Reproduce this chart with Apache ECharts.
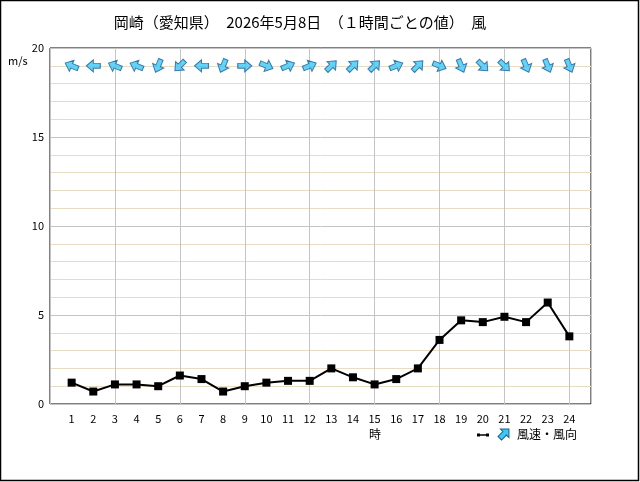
<!DOCTYPE html>
<html>
<head>
<meta charset="utf-8">
<script src="https://cdn.jsdelivr.net/npm/echarts@6/dist/echarts.min.js"></script>
<style>
  html, body { margin: 0; padding: 0; background: #fff; }
  #chart { width: 640px; height: 482px; }
</style>
</head>
<body>
<div id="chart"></div>
<script>
// 時刻 (1..24時)
var hours = [1,2,3,4,5,6,7,8,9,10,11,12,13,14,15,16,17,18,19,20,21,22,23,24];
// 風速 m/s
var speed = [1.2,0.7,1.1,1.1,1.0,1.6,1.4,0.7,1.0,1.2,1.3,1.3,2.0,1.5,1.1,1.4,2.0,3.6,4.7,4.6,4.9,4.6,5.7,3.8];
// 風向（吹いてくる方向）
var windFrom = ['東南東','東','東南東','東南東','北北東','北東','東','北北東','西','西北西','西南西','西南西',
                '南西','南西','南西','西南西','南西','西北西','北北西','北西','北西','北北西','北北西','北北西'];
var compass = ['北','北北東','北東','東北東','東','東南東','南東','南南東','南','南南西','南西','西南西','西','西北西','北西','北北西'];
var yTicks = [0,5,10,15,20];
var arrowRow = 19;

var arrowPath = 'path://M5,0 L10,5 L7,5 L7,10 L3,10 L3,5 L0,5 Z';

var lineData = [];
var arrowData = [];
for (var i = 0; i < hours.length; i++) {
  lineData.push([hours[i], speed[i]]);
  // 矢印は風下方向を向く
  var bearing = compass.indexOf(windFrom[i]) * 22.5 + 180;
  arrowData.push({ value: [hours[i], arrowRow], symbolRotate: -bearing });
}

var font = '"Noto Sans CJK JP", sans-serif';
var myChart = echarts.init(document.getElementById('chart'));

var option = {
  animation: false,
  backgroundColor: '#fff',
  textStyle: { fontFamily: font },
  title: {
    text: '岡崎（愛知県）　2026年5月8日　（１時間ごとの値）　風',
    left: 295, top: 10, textAlign: 'center',
    textStyle: { fontSize: 15, fontWeight: 'normal', color: '#000', fontFamily: font }
  },
  grid: { left: 50, right: 49, top: 48, bottom: 78, show: true, borderColor: '#000', borderWidth: 1, backgroundColor: 'transparent' },
  xAxis: [
    {
      type: 'value', min: 0, max: 25, interval: 1,
      axisLine: { show: false }, axisTick: { show: false },
      splitLine: { show: false },
      axisLabel: {
        margin: 9, fontSize: 11, color: '#000', fontFamily: font,
        formatter: function (v) { return hours.indexOf(v) >= 0 ? String(v) : ''; }
      }
    },
    {
      type: 'value', min: 0, max: 25, interval: 3, position: 'bottom',
      axisLine: { show: false }, axisTick: { show: false }, axisLabel: { show: false },
      splitLine: { show: true, lineStyle: { color: '#c4c4c4', width: 1 } }
    }
  ],
  yAxis: {
    type: 'value', min: 0, max: 20, interval: 5,
    axisLine: { show: false }, axisTick: { show: false },
    axisLabel: {
      margin: 6, fontSize: 11, color: '#000', fontFamily: font,
      formatter: function (v) { return yTicks.indexOf(v) >= 0 ? String(v) : ''; }
    },
    splitLine: { show: true, lineStyle: { color: '#c4c4c4', width: 1 } },
    minorTick: { show: false, splitNumber: 5 },
    minorSplitLine: { show: true, lineStyle: { color: '#e9dcc4', width: 1 } }
  },
  series: [
    {
      name: '風速', type: 'line', data: lineData, z: 5,
      symbol: 'rect', symbolSize: 8, showSymbol: true,
      lineStyle: { color: '#000', width: 2 },
      itemStyle: { color: '#000' }
    },
    {
      name: '風向', type: 'scatter', data: arrowData, z: 4,
      symbol: arrowPath, symbolSize: [12, 14], symbolKeepAspect: false,
      itemStyle: { color: '#3cc8f5', borderColor: '#1a5c9a', borderWidth: 1 }
    }
  ],
  graphic: [
    { type: 'rect', shape: { x: 0.5, y: 0.5, width: 638, height: 480 }, style: { fill: 'none', stroke: '#000', lineWidth: 1.5 }, z: 100 },
    { type: 'text', x: 8, y: 55, style: { text: 'm/s', fontSize: 11, fill: '#000', fontFamily: font } },
    { type: 'text', x: 369, y: 428, style: { text: '時', fontSize: 12, fill: '#000', fontFamily: font } },
    { type: 'line', shape: { x1: 478, y1: 435, x2: 488, y2: 435 }, style: { stroke: '#000', lineWidth: 1.5 } },
    { type: 'rect', shape: { x: 477, y: 433.5, width: 3, height: 3 }, style: { fill: '#000' } },
    { type: 'rect', shape: { x: 486, y: 433.5, width: 3, height: 3 }, style: { fill: '#000' } },
    { type: 'polygon', x: 504, y: 434, rotation: -Math.PI / 4,
      shape: { points: [[0, -7], [6, -1], [2.5, -1], [2.5, 6], [-2.5, 6], [-2.5, -1], [-6, -1]] },
      style: { fill: '#3cc8f5', stroke: '#1a5c9a', lineWidth: 1 } },
    { type: 'text', x: 517, y: 428, style: { text: '風速・風向', fontSize: 12, fill: '#000', fontFamily: font } }
  ]
};

myChart.setOption(option);
</script>
</body>
</html>
